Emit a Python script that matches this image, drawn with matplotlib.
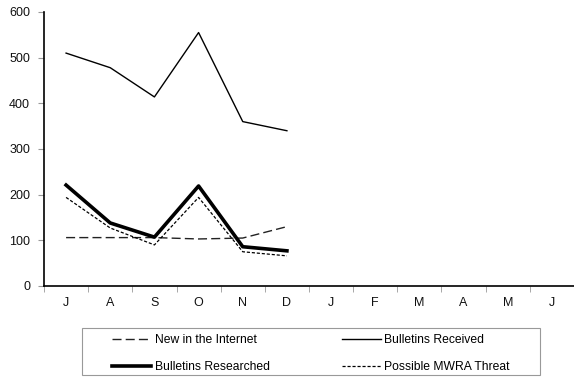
import matplotlib
matplotlib.use("Agg")
import matplotlib.pyplot as plt
from matplotlib.patches import Rectangle
import numpy as np

plt.rcParams['font.family'] = ['Liberation Sans', 'DejaVu Sans']

months = ["J", "A", "S", "O", "N", "D", "J", "F", "M", "A", "M", "J"]
new_internet = [106, 106, 106, 103, 105, 130]
received = [510, 478, 414, 555, 360, 340]
researched = [221, 138, 107, 219, 86, 77]
threat = [194, 127, 90, 194, 75, 66]
yticks = [0, 100, 200, 300, 400, 500, 600]

W, H = 574, 377
fig = plt.figure(figsize=(W/100, H/100), dpi=100)
ax = fig.add_axes([44/W, 1-286/H, 1-44/W, 274/H])

x = np.arange(len(new_internet))
l_new, = ax.plot(x, new_internet, color='#222222', lw=1.0, dashes=(6.5, 3), label='New in the Internet')
l_rec, = ax.plot(x, received, color='black', lw=1.0, label='Bulletins Received')
l_res, = ax.plot(x, researched, color='black', lw=2.6, label='Bulletins Researched')
l_thr, = ax.plot(x, threat, color='black', lw=0.9, dashes=(2.5, 1.5), label='Possible MWRA Threat')

ax.set_xlim(-0.5, len(months) - 0.5)
ax.set_ylim(0, 600)
ax.set_yticks(yticks)
ax.set_xticks(np.arange(len(months)))
ax.set_xticklabels(months)
ax.set_xticks(np.arange(len(months) + 1) - 0.5, minor=True)
ax.tick_params(axis='x', which='major', length=0, pad=8, labelsize=9, labelcolor='#111111')
ax.tick_params(axis='x', which='minor', length=4, color='#999999', direction='out')
ax.tick_params(axis='y', length=4, color='#999999', labelsize=9, labelcolor='#111111', pad=6)
for s in ['top', 'right']:
    ax.spines[s].set_visible(False)
for s in ['left', 'bottom']:
    ax.spines[s].set_linewidth(1.2)
    ax.spines[s].set_color('black')

# legend frame
bx0, bx1, by0, by1 = 82, 540, 328, 375
fig.patches.append(Rectangle((bx0/W, 1-by1/H), (bx1-bx0)/W, (by1-by0)/H,
                             transform=fig.transFigure, fill=False,
                             edgecolor='#999999', lw=0.8))
leg = fig.legend(handles=[l_new, l_res, l_rec, l_thr], ncol=2,
                 loc='center', bbox_to_anchor=((bx0+bx1)/2/W, 1-(by0+by1+4)/2/H),
                 frameon=False, fontsize=8.7,
                 handlelength=3.2, handletextpad=0.3, borderaxespad=0,
                 labelspacing=1.2, columnspacing=6.0, borderpad=0)

fig.savefig("out.png", dpi=100)
